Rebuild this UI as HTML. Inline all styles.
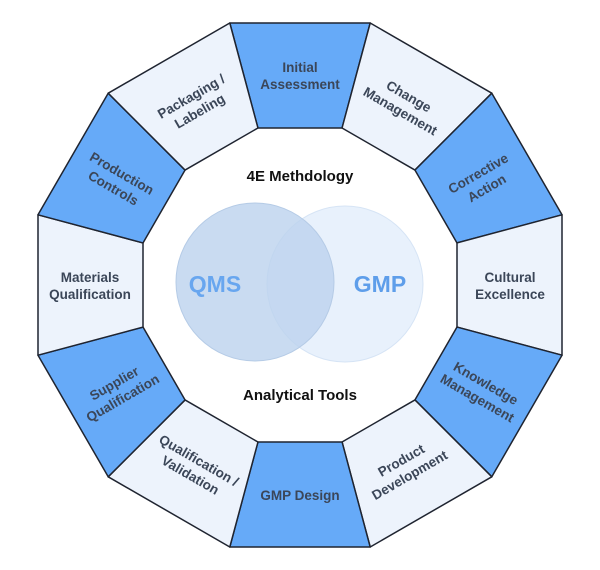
<!DOCTYPE html>
<html><head><meta charset="utf-8"><style>
html,body{margin:0;padding:0;background:#fff;width:600px;height:570px;overflow:hidden}
svg text{font-family:"Liberation Sans",sans-serif;font-weight:bold}
.l{fill:#3b4658;font-size:13.5px}
</style></head><body>
<svg width="600" height="570" viewBox="0 0 600 570" xmlns="http://www.w3.org/2000/svg">
<defs>
<polygon id="seg" points="229.8,23 370.2,23 342.1,128 257.9,128" stroke="#1f2430" stroke-width="1.5" stroke-linejoin="round"/>
</defs>
<g>
<use href="#seg" fill="#66aaf8" transform="rotate(0 300 285)"/>
<use href="#seg" fill="#edf3fc" transform="rotate(30 300 285)"/>
<use href="#seg" fill="#66aaf8" transform="rotate(60 300 285)"/>
<use href="#seg" fill="#edf3fc" transform="rotate(90 300 285)"/>
<use href="#seg" fill="#66aaf8" transform="rotate(120 300 285)"/>
<use href="#seg" fill="#edf3fc" transform="rotate(150 300 285)"/>
<use href="#seg" fill="#66aaf8" transform="rotate(180 300 285)"/>
<use href="#seg" fill="#edf3fc" transform="rotate(210 300 285)"/>
<use href="#seg" fill="#66aaf8" transform="rotate(240 300 285)"/>
<use href="#seg" fill="#edf3fc" transform="rotate(270 300 285)"/>
<use href="#seg" fill="#66aaf8" transform="rotate(300 300 285)"/>
<use href="#seg" fill="#edf3fc" transform="rotate(330 300 285)"/>
</g>
<g text-anchor="middle">
<text class="l" transform="translate(300,75)"><tspan x="0" y="-3">Initial</tspan><tspan x="0" y="14">Assessment</tspan></text>
<text class="l" transform="translate(405,103) rotate(30)"><tspan x="0" y="-3">Change</tspan><tspan x="0" y="14">Management</tspan></text>
<text class="l" transform="translate(482,180) rotate(-30)"><tspan x="0" y="-3">Corrective</tspan><tspan x="0" y="14">Action</tspan></text>
<text class="l" transform="translate(510,285)"><tspan x="0" y="-3">Cultural</tspan><tspan x="0" y="14">Excellence</tspan></text>
<text class="l" transform="translate(482,390) rotate(30)"><tspan x="0" y="-3">Knowledge</tspan><tspan x="0" y="14">Management</tspan></text>
<text class="l" transform="translate(405,467) rotate(-30)"><tspan x="0" y="-3">Product</tspan><tspan x="0" y="14">Development</tspan></text>
<text class="l" transform="translate(300,495)"><tspan x="0" y="5">GMP Design</tspan></text>
<text class="l" transform="translate(195,467) rotate(30)"><tspan x="0" y="-3">Qualification /</tspan><tspan x="0" y="14">Validation</tspan></text>
<text class="l" transform="translate(118,390) rotate(-30)"><tspan x="0" y="-3">Supplier</tspan><tspan x="0" y="14">Qualification</tspan></text>
<text class="l" transform="translate(90,285)"><tspan x="0" y="-3">Materials</tspan><tspan x="0" y="14">Qualification</tspan></text>
<text class="l" transform="translate(118,180) rotate(30)"><tspan x="0" y="-3">Production</tspan><tspan x="0" y="14">Controls</tspan></text>
<text class="l" transform="translate(195,103) rotate(-30)"><tspan x="0" y="-3">Packaging /</tspan><tspan x="0" y="14">Labeling</tspan></text>
</g>
<text x="300" y="181" text-anchor="middle" font-size="15" fill="#111">4E Methdology</text>
<text x="300" y="400" text-anchor="middle" font-size="15" fill="#111">Analytical Tools</text>
<circle cx="345" cy="284" r="78" fill="#e8f1fc" stroke="#d6e4f5" stroke-width="1"/>
<circle cx="255" cy="282" r="79" fill="#bcd2ee" fill-opacity="0.8" stroke="#b5cbe6" stroke-width="1"/>
<text x="215" y="292" text-anchor="middle" font-size="23" fill="#68a6ef">QMS</text>
<text x="380" y="292" text-anchor="middle" font-size="23" fill="#5e9eea">GMP</text>
</svg>
</body></html>
